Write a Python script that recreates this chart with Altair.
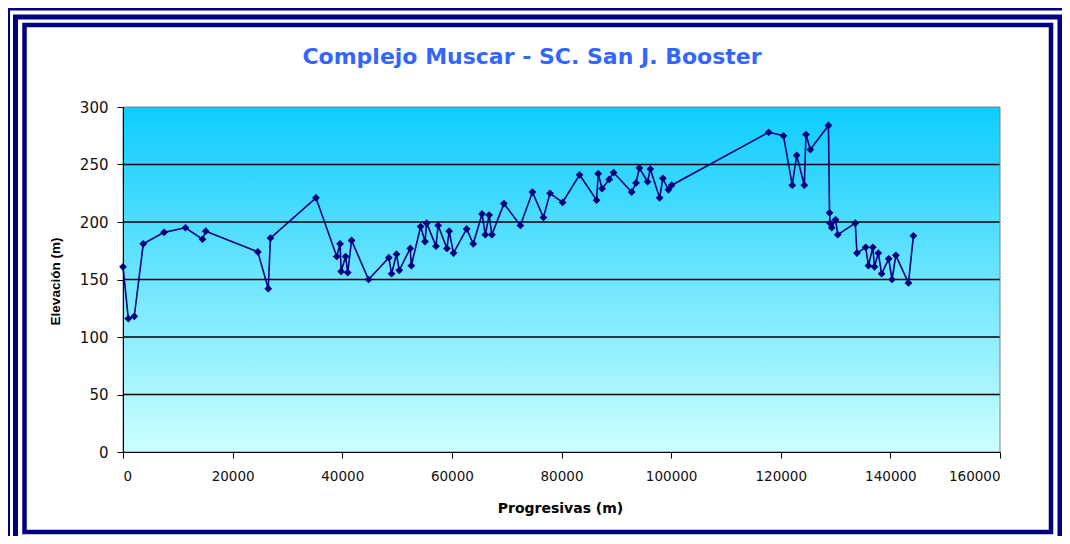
import altair as alt
import pandas as pd

PROG = [0, 970, 2060, 3700, 7500, 11400, 14500, 15100, 24600, 26500, 26900,
        35200, 39000, 39600, 39800, 40600, 41000, 41700, 44800, 48500, 49000,
        49900, 50400, 52400, 52600, 54300, 55100, 55400, 57100, 57500, 59100,
        59500, 60300, 62700, 63900, 65500, 66100, 66800, 67300, 69500, 72500,
        74700, 76700, 77900, 80200, 83300, 86400, 86700, 87400, 88700, 89500,
        92800, 93600, 94200, 95700, 96200, 97900, 98500, 99500, 100100, 117800,
        120500, 122100, 122900, 124300, 124600, 125400, 128700, 128900, 129000,
        129300, 130000, 130400, 133600, 133900, 135500, 136000, 136800, 137100,
        137800, 138400, 139700, 140300, 141000, 143300, 144200]
ELEV = [161, 116, 118, 181, 191, 195, 185, 192, 174, 142, 186,
        221, 170, 181, 157, 170, 156, 184, 150, 169, 155,
        172, 158, 177, 162, 196, 183, 199, 179, 197, 177,
        192, 173, 194, 181, 207, 189, 206, 189, 216, 197,
        226, 204, 225, 217, 241, 219, 242, 229, 237, 243,
        226, 234, 247, 235, 246, 221, 238, 228, 232, 278,
        275, 232, 258, 232, 276, 263, 284, 208, 199,
        195, 202, 189, 199, 173, 178, 162, 178, 161,
        173, 155, 168, 150, 171, 147, 188]
GRID = [50, 100, 150, 200, 250]
X_TICKS = [0, 20000, 40000, 60000, 80000, 100000, 120000, 140000, 160000]
Y_TICKS = [0, 50, 100, 150, 200, 250, 300]
TITLE = "Complejo Muscar - SC. San J. Booster"

NAVY = "#000080"
W, H = 877, 345

df = pd.DataFrame({"i": list(range(len(PROG))), "prog": PROG, "elev": ELEV})
grid_df = pd.DataFrame({"elev": GRID})
one = pd.DataFrame({"a": [0]})
title_df = pd.DataFrame({"t": [TITLE]})

xs = alt.Scale(domain=[0, 160000], nice=False, zero=False)
ys = alt.Scale(domain=[0, 300], nice=False)

x_axis = alt.Axis(values=X_TICKS, format="d", title="Progresivas (m)", grid=False,
                  domainColor="#000000", tickColor="#000000", tickSize=6,
                  labelFont="DejaVu Sans", labelFontSize=13.5, labelColor="#111111",
                  labelPadding=11, titleFont="DejaVu Sans", titleFontSize=14,
                  titleFontWeight="bold", titleColor="#000000", titleX=437, titleY=56,
                  titleBaseline="middle", titleAlign="center", zindex=1)
y_axis = alt.Axis(values=Y_TICKS, title="Elevación (m)", grid=False,
                  domainColor="#000000", tickColor="#000000", tickSize=6,
                  labelFont="DejaVu Sans", labelFontSize=15, labelColor="#111111",
                  labelPadding=9, titleFont="Liberation Sans", titleFontSize=13.5,
                  titleFontWeight="bold", titleColor="#000000", titleX=-68, titleY=174,
                  titleAngle=270, titleBaseline="middle", titleAlign="center", zindex=1)

X = alt.X("prog:Q", scale=xs, axis=x_axis)
Y = alt.Y("elev:Q", scale=ys, axis=y_axis)


def frame(x1, x2, y1, y2, sw, color=NAVY):
    return alt.Chart(one).mark_rect(fillOpacity=0, stroke=color, strokeWidth=sw).encode(
        x=alt.value(x1), x2=alt.value(x2), y=alt.value(y1), y2=alt.value(y2))


gradient = alt.LinearGradient(
    gradient="linear",
    stops=[alt.GradientStop(color="#0ECCFE", offset=0),
           alt.GradientStop(color="#CCFFFF", offset=1)],
    x1=0, x2=0, y1=0, y2=1)

bg = alt.Chart(one).mark_rect(color=gradient).encode(
    x=alt.value(0), x2=alt.value(W), y=alt.value(0), y2=alt.value(H))

grid = alt.Chart(grid_df).mark_rule(color="#000000", strokeWidth=1.5).encode(
    y=alt.Y("elev:Q", scale=ys, axis=y_axis))

line = alt.Chart(df).mark_line(color=NAVY, strokeWidth=1.6).encode(
    x=X, y=Y, order=alt.Order("i:Q"))
pts = alt.Chart(df).mark_point(shape="diamond", filled=True, size=60,
                               color=NAVY, opacity=1).encode(x=X, y=Y)

border = frame(0, W, 0, H, 1, "#808080")

title = alt.Chart(title_df).mark_text(
    font="DejaVu Sans", fontSize=22, fontWeight="bold", color="#3366FF",
    align="center", baseline="alphabetic").encode(
    text="t:N", x=alt.value(409), y=alt.value(-43))

chart = alt.layer(
    frame(-115, 943, -98.5, 436, 4),
    frame(-107.5, 937, -90, 431.5, 5),
    frame(-98.5, 928, -82, 425, 4.5),
    bg, grid, border, line, pts, title,
).properties(
    width=W, height=H,
    autosize=alt.AutoSizeParams(type="none"),
    padding={"left": 115, "top": 99, "right": 62, "bottom": 84},
    background="white",
).configure_view(stroke=None)

chart.save("out.html", embed_options={"renderer": "svg", "actions": False})
